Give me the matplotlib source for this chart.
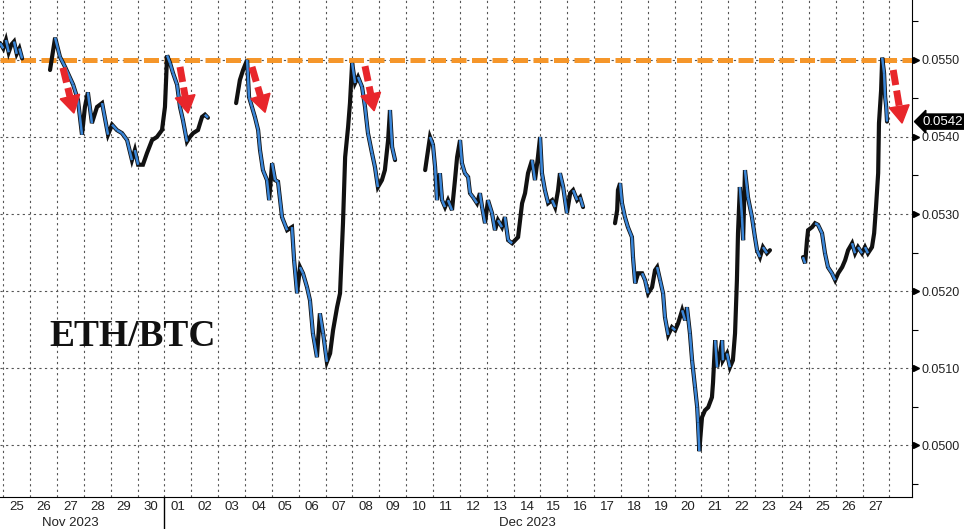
import matplotlib
matplotlib.use("Agg")
import matplotlib.pyplot as plt
import matplotlib.transforms as mtransforms
from matplotlib.collections import LineCollection
from matplotlib.patches import Polygon
import numpy as np

plt.rcParams['font.family'] = ['Liberation Sans', 'DejaVu Sans']

# ---- data: time in days since 25 Nov 2023 00:00, ETH/BTC price ----
seg1_t = [-0.12, 0.0, 0.1, 0.2, 0.3, 0.4, 0.5, 0.6, 0.7]
seg1_v = [0.05522, 0.05515, 0.05526, 0.05510, 0.05520, 0.05524, 0.05508, 0.05515, 0.05502]

seg2_t = [1.74, 1.93, 2.11, 2.30, 2.60, 2.78, 2.93, 3.04, 3.15, 3.30, 3.49, 3.68, 3.90,
          4.05, 4.23, 4.42, 4.61, 4.79, 4.90, 5.02, 5.20, 5.35, 5.54, 5.72, 5.91, 6.02,
          6.10, 6.21, 6.32, 6.47, 6.58, 6.69, 6.84, 6.95, 7.07, 7.25, 7.40, 7.51, 7.62]
seg2_v = [0.05487, 0.05529, 0.05504, 0.05491, 0.05468, 0.05448, 0.05403, 0.05439, 0.05458,
          0.05418, 0.05439, 0.05444, 0.05403, 0.05416, 0.05409, 0.05405, 0.05396, 0.05370,
          0.05383, 0.05364, 0.05364, 0.05379, 0.05396, 0.05400, 0.05409, 0.05439, 0.05506,
          0.05496, 0.05483, 0.05468, 0.05439, 0.05422, 0.05394, 0.05400, 0.05405, 0.05409,
          0.05426, 0.05429, 0.05425]

seg3_t = [8.67, 8.81, 8.93, 9.08, 9.15, 9.26, 9.37, 9.49, 9.56, 9.67, 9.82, 9.90, 10.01,
          10.12, 10.23, 10.38, 10.57, 10.75, 10.83, 10.94, 11.05, 11.16, 11.31, 11.42,
          11.53, 11.68, 11.79, 11.91, 12.05, 12.17, 12.28, 12.43, 12.54, 12.65, 12.73,
          12.84, 12.91, 12.99, 13.10, 13.21, 13.36, 13.47, 13.58, 13.73, 13.84, 13.95,
          14.10, 14.21, 14.33, 14.40, 14.48, 14.59]
seg3_v = [0.05444, 0.05474, 0.05487, 0.05500, 0.05452, 0.05439, 0.05426, 0.05409, 0.05383,
          0.05357, 0.05344, 0.05318, 0.05366, 0.05344, 0.05342, 0.05296, 0.05279, 0.05283,
          0.05240, 0.05197, 0.05231, 0.05223, 0.05205, 0.05188, 0.05145, 0.05114, 0.05171,
          0.05145, 0.05108, 0.05119, 0.05149, 0.05179, 0.05197, 0.05288, 0.05374, 0.05413,
          0.05444, 0.05496, 0.05470, 0.05478, 0.05465, 0.05439, 0.05405, 0.05379, 0.05361,
          0.05335, 0.05344, 0.05357, 0.05396, 0.05435, 0.05387, 0.05370]

seg4_t = [15.71, 15.78, 15.89, 16.00, 16.08, 16.15, 16.26, 16.34, 16.45, 16.56, 16.71,
          16.82, 16.90, 17.01, 17.08, 17.19, 17.31, 17.38, 17.49, 17.64, 17.75, 17.83,
          17.94, 18.05, 18.20, 18.31, 18.42, 18.57, 18.68, 18.80, 18.95, 19.06, 19.17,
          19.32, 19.43, 19.54, 19.69, 19.80, 19.91, 19.99, 20.06, 20.17, 20.29, 20.44,
          20.55, 20.66, 20.73, 20.85, 20.99, 21.11, 21.22, 21.37, 21.48, 21.59]
seg4_v = [0.05357, 0.05374, 0.05400, 0.05390, 0.05361, 0.05318, 0.05353, 0.05318, 0.05309,
          0.05318, 0.05305, 0.05344, 0.05374, 0.05396, 0.05366, 0.05353, 0.05348, 0.05327,
          0.05322, 0.05314, 0.05327, 0.05309, 0.05288, 0.05318, 0.05301, 0.05279, 0.05292,
          0.05283, 0.05296, 0.05266, 0.05262, 0.05266, 0.05270, 0.05314, 0.05327, 0.05353,
          0.05370, 0.05344, 0.05374, 0.05400, 0.05353, 0.05331, 0.05314, 0.05318, 0.05309,
          0.05331, 0.05353, 0.05335, 0.05301, 0.05327, 0.05331, 0.05318, 0.05322, 0.05309]

seg5_t = [22.78, 22.86, 22.89, 22.97, 23.04, 23.15, 23.26, 23.41, 23.45, 23.53, 23.64,
          23.79, 23.90, 24.01, 24.16, 24.27, 24.35, 24.46, 24.57, 24.64, 24.76, 24.90,
          25.02, 25.13, 25.28, 25.39, 25.46, 25.57, 25.65, 25.76, 25.84, 25.87, 25.92,
          25.95, 26.02, 26.13, 26.25, 26.39, 26.43, 26.51, 26.58, 26.69, 26.77, 26.80,
          26.95, 27.06, 27.17, 27.25, 27.32, 27.36, 27.43, 27.51, 27.55, 27.62, 27.69,
          27.73, 27.88, 27.99, 28.07, 28.18, 28.29, 28.44, 28.55]
seg5_v = [0.05288, 0.05305, 0.05331, 0.05340, 0.05314, 0.05296, 0.05283, 0.05270, 0.05244,
          0.05210, 0.05223, 0.05223, 0.05214, 0.05197, 0.05205, 0.05227, 0.05231, 0.05214,
          0.05197, 0.05166, 0.05143, 0.05153, 0.05149, 0.05158, 0.05175, 0.05162, 0.05179,
          0.05145, 0.05110, 0.05075, 0.05049, 0.05029, 0.04992, 0.05006, 0.05036, 0.05045,
          0.05049, 0.05062, 0.05081, 0.05136, 0.05101, 0.05119, 0.05136, 0.05110, 0.05119,
          0.05101, 0.05110, 0.05145, 0.05214, 0.05275, 0.05335, 0.05296, 0.05266, 0.05357,
          0.05335, 0.05322, 0.05296, 0.05270, 0.05253, 0.05244, 0.05257, 0.05249, 0.05253]

seg6_t = [29.78, 29.86, 29.93, 29.97, 30.12, 30.23, 30.34, 30.49, 30.60, 30.71, 30.86,
          30.98, 31.09, 31.24, 31.35, 31.46, 31.61, 31.72, 31.83, 31.98, 32.09, 32.20,
          32.35, 32.43, 32.50, 32.58, 32.61, 32.69, 32.73, 32.80, 32.84, 32.88, 32.91]
seg6_v = [0.05244, 0.05236, 0.05266, 0.05279, 0.05283, 0.05288, 0.05286, 0.05275, 0.05249,
          0.05231, 0.05223, 0.05214, 0.05223, 0.05231, 0.05240, 0.05253, 0.05262, 0.05249,
          0.05257, 0.05249, 0.05257, 0.05249, 0.05257, 0.05275, 0.05309, 0.05353, 0.05418,
          0.05461, 0.05503, 0.05483, 0.05452, 0.05439, 0.05420]

day_labels = ['25', '26', '27', '28', '29', '30', '01', '02', '03', '04', '05', '06', '07',
              '08', '09', '10', '11', '12', '13', '14', '15', '16', '17', '18', '19', '20',
              '21', '22', '23', '24', '25', '26', '27']
month_labels = ['Nov 2023', 'Dec 2023']
month_pos = [2.48, 19.5]

resistance = 0.0550
last_price = 0.0542

# arrows: (start day, start value, tip day, tip value)
arrows = [(2.22, 0.05490, 2.63, 0.05431),
          (6.58, 0.05491, 6.88, 0.05431),
          (9.26, 0.05491, 9.75, 0.05432),
          (13.47, 0.05492, 13.81, 0.05434),
          (33.14, 0.05487, 33.47, 0.05418)]

# ---- plot ----
fig = plt.figure(figsize=(9.64, 5.29), dpi=100)
ax = fig.add_axes([0, 32 / 529, 912 / 964, 497 / 529])
ax.set_xlim(-0.123, 33.84)
ax.set_ylim(0.049325, 0.055779)

blue = '#3a86d8'
for t, v in [(seg1_t, seg1_v), (seg2_t, seg2_v), (seg3_t, seg3_v),
             (seg4_t, seg4_v), (seg5_t, seg5_v), (seg6_t, seg6_v)]:
    ax.plot(t, v, color='#111111', lw=3.0, solid_capstyle='round',
            solid_joinstyle='miter', zorder=3)
    pts = np.column_stack([t, v])
    segs = np.stack([pts[:-1], pts[1:]], axis=1)
    down = [s for s, a, b in zip(segs, v[:-1], v[1:]) if b < a]
    ax.add_collection(LineCollection(down, colors=blue, linewidths=1.8, zorder=4))

# resistance line
ax.axhline(resistance, color='#f5962a', lw=3.6, dashes=(3, 1.1), zorder=2)

# grid
ax.set_xticks(np.arange(0, 34))
ax.set_xticks(np.arange(0, 33) + 0.5, minor=True)
ax.set_xticklabels([])
ax.set_xticklabels(day_labels, minor=True)
ax.tick_params(axis='x', which='both', length=0, labelsize=9.5, pad=3, colors='#222222')
ax.grid(True, which='major', color='#555555', lw=0.8, ls=(0, (2, 3)))

ax.yaxis.tick_right()
yt = np.arange(0.0500, 0.05501, 0.001)
ax.set_yticks(yt)
ax.set_yticks(np.arange(0.0495, 0.05551, 0.001), minor=True)
ax.set_yticklabels(['%.4f' % y for y in yt])
ax.tick_params(axis='y', which='major', length=0, pad=6.5, labelsize=9, colors='#222222')
ax.tick_params(axis='y', which='minor', length=4, width=0.8, direction='out')

for s in ['left', 'top']:
    ax.spines[s].set_visible(False)
ax.spines['right'].set_color('black')
ax.spines['bottom'].set_color('black')

# triangle markers at the major y ticks
tri_tr = mtransforms.blended_transform_factory(ax.transAxes, ax.transData) + \
    mtransforms.ScaledTranslation(3 / 72, 0, fig.dpi_scale_trans)
ax.plot([1.0] * len(yt), yt, ls='none', marker='>', ms=5, color='black',
        transform=tri_tr, clip_on=False)

# last price tag
ytr = mtransforms.blended_transform_factory(ax.transAxes, ax.transData)
ax.text(1.0115, last_price, '%.4f' % last_price, transform=ytr, color='white',
        fontsize=9.5, va='center', ha='left',
        bbox=dict(boxstyle='larrow,pad=0.12', fc='black', ec='black'))

# month labels and separator
xtr = mtransforms.blended_transform_factory(ax.transData, ax.transAxes)
for m, p in zip(month_labels, month_pos):
    ax.text(p, -0.052, m, transform=xtr, ha='center', va='center', fontsize=9.5,
            color='#222222')
ax.plot([6, 6], [0, -0.07], transform=xtr, color='black', lw=1, clip_on=False)

ax.text(0.054, 0.304, 'ETH/BTC', transform=ax.transAxes, fontsize=27,
        fontweight='bold', family='Liberation Serif', color='#111111', va='baseline')

# red dashed arrows (drawn in pixel space)
red = '#e8262b'
ident = mtransforms.IdentityTransform()
for x0, y0, x1, y1 in arrows:
    p0 = ax.transData.transform((x0, y0))
    p1 = ax.transData.transform((x1, y1))
    d = p1 - p0
    u = d / np.hypot(*d)
    perp = np.array([-u[1], u[0]])
    base = p1 - u * 17
    ax.add_line(plt.Line2D([p0[0], base[0]], [p0[1], base[1]], transform=ident,
                           color=red, lw=5, dashes=(2.2, 0.8), zorder=5))
    ax.add_patch(Polygon([p1, base + perp * 10, base - perp * 10], closed=True,
                         transform=ident, color=red, zorder=5))

fig.savefig('out.png', dpi=100)
